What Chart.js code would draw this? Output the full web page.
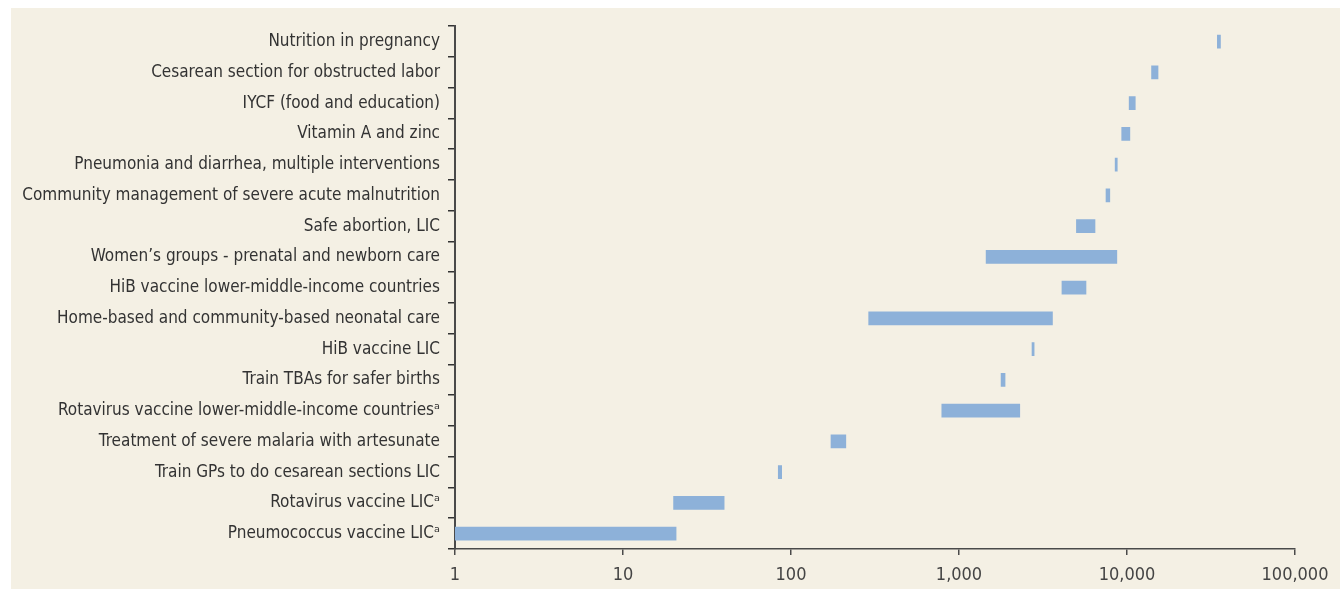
<!DOCTYPE html>
<html>
<head>
<meta charset="utf-8">
<script src="https://cdn.jsdelivr.net/npm/chart.js@4"></script>
<style>
  html, body { margin: 0; padding: 0; background: #ffffff; }
  #panel { position: absolute; left: 11px; top: 8px; width: 1329px; height: 581px; background: #F4F0E4; }
  #myChart { display: block; }
</style>
</head>
<body>
<div id="panel"><canvas id="myChart" width="1329" height="581"></canvas></div>
<script>
// interventions, top to bottom
const interventions = [
    'Nutrition in pregnancy',
    'Cesarean section for obstructed labor',
    'IYCF (food and education)',
    'Vitamin A and zinc',
    'Pneumonia and diarrhea, multiple interventions',
    'Community management of severe acute malnutrition',
    'Safe abortion, LIC',
    'Women\u2019s groups - prenatal and newborn care',
    'HiB vaccine lower-middle-income countries',
    'Home-based and community-based neonatal care',
    'HiB vaccine LIC',
    'Train TBAs for safer births',
    'Rotavirus vaccine lower-middle-income countries\u1d43',
    'Treatment of severe malaria with artesunate',
    'Train GPs to do cesarean sections LIC',
    'Rotavirus vaccine LIC\u1d43',
    'Pneumococcus vaccine LIC\u1d43'
];

// range of each bar (low / high end)
const lowValues  = [34500, 14000, 10300, 9300, 8500, 7500, 5000, 1450, 4100, 290, 2720, 1780, 790, 173, 84, 20, 1];
const highValues = [36000, 15300, 11200, 10400, 8750, 7900, 6450, 8700, 5700, 3600, 2800, 1880, 2300, 212, 88, 40, 20.7];

const xTicks = [1, 10, 100, 1000, 10000, 100000];

const labelFont = "'DejaVu Sans Condensed', 'Liberation Sans Narrow', sans-serif";
const ctx = document.getElementById('myChart');

new Chart(ctx, {
    type: 'bar',
    data: {
        labels: interventions,
        datasets: [
            {
                data: lowValues.map((v, i) => [v, highValues[i]]),
                backgroundColor: '#8DB1D9',
                borderWidth: 0,
                barThickness: 13
            }
        ]
    },
    options: {
        indexAxis: 'y',
        responsive: false,
        animation: false,
        layout: {
            padding: { left: 0, right: 45, top: 17, bottom: 0 }
        },
        scales: {
            x: {
                type: 'logarithmic',
                min: 1,
                max: 100000,
                afterBuildTicks: function (scale) {
                    scale.ticks = xTicks.map(v => ({ value: v }));
                },
                afterFit: function (scale) {
                    scale.height = 40;
                },
                border: { display: true, color: '#4a4a4a', width: 1.5 },
                grid: {
                    drawOnChartArea: false,
                    drawTicks: true,
                    tickLength: 6,
                    color: '#4a4a4a',
                    lineWidth: 1.5
                },
                ticks: {
                    color: '#444444',
                    padding: 10,
                    autoSkip: false,
                    maxRotation: 0,
                    font: { family: labelFont, size: 18 },
                    callback: function (value) {
                        return Number(value).toLocaleString('en-US');
                    }
                }
            },
            y: {
                afterFit: function (scale) {
                    scale.width = 444;
                },
                border: { display: true, color: '#4a4a4a', width: 2 },
                grid: {
                    offset: true,
                    drawOnChartArea: false,
                    drawTicks: true,
                    tickLength: 7,
                    color: '#333333',
                    lineWidth: 1.5
                },
                ticks: {
                    color: '#333333',
                    padding: 8,
                    autoSkip: false,
                    font: { family: labelFont, size: 17 }
                }
            }
        },
        plugins: {
            legend: { display: false },
            tooltip: { enabled: false }
        }
    }
});
</script>
</body>
</html>
